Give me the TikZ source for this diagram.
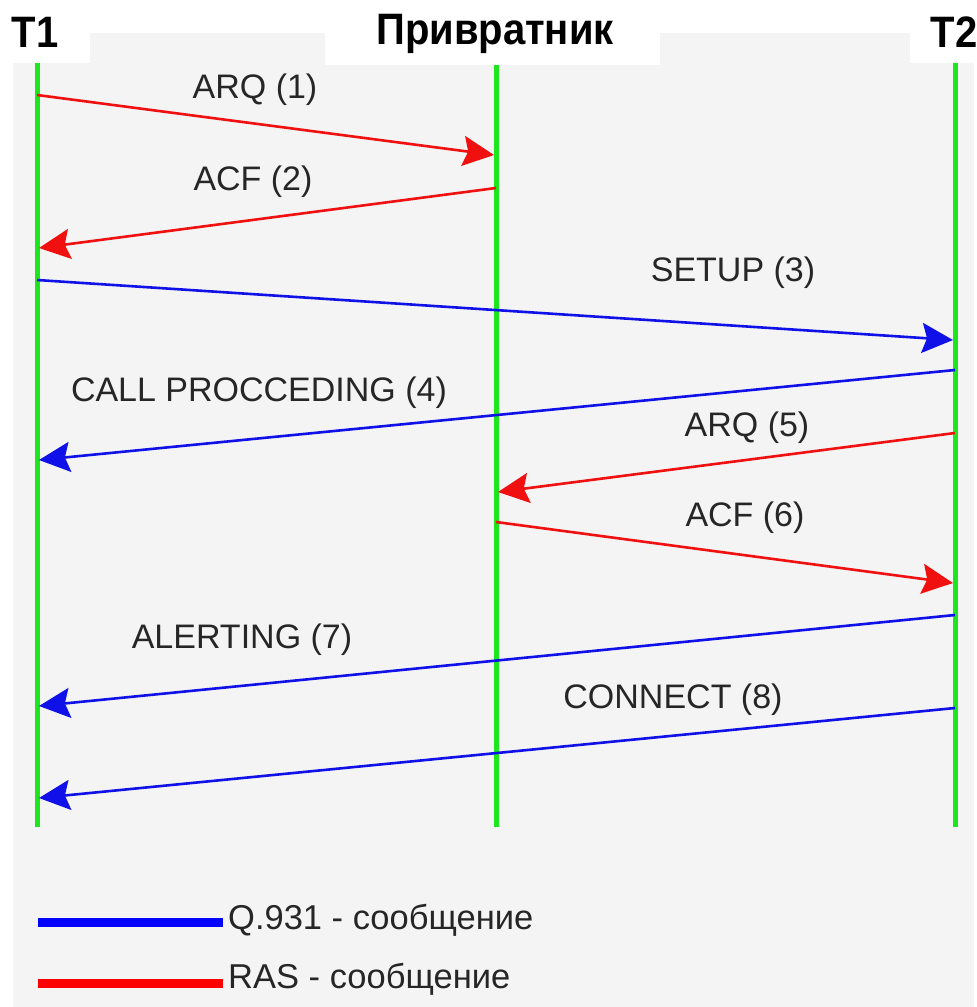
\documentclass[tikz,border=0pt]{standalone}
\usepackage{fontspec}
\setmainfont{Liberation Sans}
\usetikzlibrary{arrows.meta}
\definecolor{panel}{HTML}{F4F4F4}
\definecolor{lifegreen}{HTML}{1EE61E}
\definecolor{msgred}{HTML}{F01010}
\definecolor{msgblue}{HTML}{1010E8}
\tikzset{
  lifeline/.style={draw=lifegreen, line width=5pt},
  msg/.style={line width=2.6pt, -{Stealth[length=31pt,width=30pt,inset=5pt]}},
  ras/.style={msg, draw=msgred, fill=msgred},
  qmsg/.style={msg, draw=msgblue, fill=msgblue},
  lbl/.style={font=\fontsize{34}{38}\selectfont, inner sep=0pt, text=black!85},
  title/.style={font=\fontsize{40}{44}\selectfont\bfseries, inner sep=0pt, text=black, yscale=1.1},
  legline/.style={line width=9pt},
  legtext/.style={font=\fontsize{34.5}{38}\selectfont, inner sep=0pt, anchor=west, text=black!85}
}
\begin{document}
\begin{tikzpicture}[x=1pt,y=-1pt]
\useasboundingbox (0,0) rectangle (977,1007);
\fill[white] (0,0) rectangle (977,1007);
\fill[panel] (13,33) rectangle (974,1007);
\fill[white] (0,0) rectangle (90,63);
\fill[white] (325,0) rectangle (660,65);
\fill[white] (910,0) rectangle (977,63);

% titles
\node[title] (t1) at (35,32) {T1};
\node[title] (gk) at (495,34) {Привратник};
\node[title] (t2) at (954,32) {T2};

% lifelines
\coordinate (t1top) at (37,63);  \coordinate (t1bot) at (37,827);
\coordinate (gktop) at (496,65); \coordinate (gkbot) at (496,827);
\coordinate (t2top) at (955,63); \coordinate (t2bot) at (955,827);
\draw[lifeline] (t1top) -- (t1bot);
\draw[lifeline] (gktop) -- (gkbot);
\draw[lifeline] (t2top) -- (t2bot);

% message end points
\coordinate (m1s) at (37,95);   \coordinate (m1e) at (494,155);
\coordinate (m2s) at (496,188); \coordinate (m2e) at (39,248);
\coordinate (m3s) at (37,280);  \coordinate (m3e) at (953,340);
\coordinate (m4s) at (955,370); \coordinate (m4e) at (39,460);
\coordinate (m5s) at (955,433); \coordinate (m5e) at (498,492);
\coordinate (m6s) at (496,522); \coordinate (m6e) at (953,583);
\coordinate (m7s) at (955,615); \coordinate (m7e) at (39,706);
\coordinate (m8s) at (955,708); \coordinate (m8e) at (39,798);

\draw[ras]  (m1s) -- (m1e);
\draw[ras]  (m2s) -- (m2e);
\draw[qmsg] (m3s) -- (m3e);
\draw[qmsg] (m4s) -- (m4e);
\draw[ras]  (m5s) -- (m5e);
\draw[ras]  (m6s) -- (m6e);
\draw[qmsg] (m7s) -- (m7e);
\draw[qmsg] (m8s) -- (m8e);

% labels
\node[lbl] (l1) at (255,90)  {ARQ (1)};
\node[lbl] (l2) at (253,182) {ACF (2)};
\node[lbl] (l3) at (733,273) {SETUP (3)};
\node[lbl] (l4) at (259,393) {CALL PROCCEDING (4)};
\node[lbl] (l5) at (747,428) {ARQ (5)};
\node[lbl] (l6) at (745,518) {ACF (6)};
\node[lbl] (l7) at (242,640) {ALERTING (7)};
\node[lbl] (l8) at (673,700) {CONNECT (8)};

% legend
\coordinate (lq1) at (38,922); \coordinate (lq2) at (223,922);
\coordinate (lr1) at (38,983); \coordinate (lr2) at (223,983);
\draw[legline, draw=blue] (lq1) -- (lq2);
\draw[legline, draw=red] (lr1) -- (lr2);
\node[legtext] (lqt) at (228,920) {Q.931 - сообщение};
\node[legtext] (lrt) at (228,979) {RAS - сообщение};
\end{tikzpicture}
\end{document}
